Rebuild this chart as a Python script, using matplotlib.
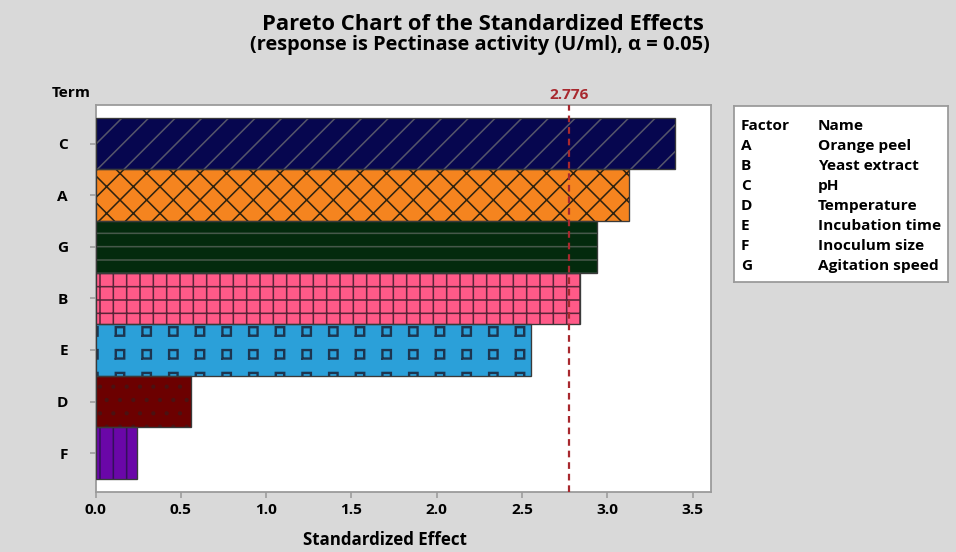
"""Pareto chart of standardized effects for pectinase activity."""

import warnings

import matplotlib
matplotlib.use("Agg")
import matplotlib.hatch as mhatch
import matplotlib.pyplot as plt
import numpy as np
from matplotlib.path import Path as MPath

warnings.filterwarnings("ignore", message=".*hatch.*")

# effects, top bar first
terms = ["C", "A", "G", "B", "E", "D", "F"]
effects = [3.40, 3.13, 2.94, 2.84, 2.55, 0.56, 0.24]
critical = 2.776

factor_codes = ["A", "B", "C", "D", "E", "F", "G"]
factor_names = ["Orange peel", "Yeast extract", "pH", "Temperature",
                "Incubation time", "Inoculum size", "Agitation speed"]

x_ticks = [0.0, 0.5, 1.0, 1.5, 2.0, 2.5, 3.0, 3.5]

face_colors = ["#06064f", "#f5841f", "#032a0d", "#ff5a88", "#2ba0d9", "#6c0000", "#6a07a8"]
hatch_colors = ["#55556a", "#2e2210", "#46584a", "#5a2438", "#1c3550", "#4a1212", "#33105a"]
hatches = ["//", "xx", "--", "++", "s", "..", "||"]

BG = "#d9d9d9"
RED = "#a8282e"
FONT = "Open Sans"
SMALL = 6.9


class OpenSquares(mhatch.HatchPatternBase):
    """Grid of small hollow squares, picked with 's' in a hatch string."""

    def __init__(self, hatch, density):
        n = hatch.count("s")
        self.cols = 6 * n
        self.rows = 7 * n
        self.num_vertices = self.cols * self.rows * 10

    def set_vertices_and_codes(self, vertices, codes):
        outer = np.array([[-1, -1], [1, -1], [1, 1], [-1, 1], [-1, -1]]) * 0.029
        # inner ring runs the other way so the centre stays open
        inner = np.array([[-1, -1], [-1, 1], [1, 1], [1, -1], [-1, -1]]) * 0.024
        k = 0
        for i in range(self.cols):
            for j in range(self.rows):
                c = [(i + 0.5) / self.cols, (j + 0.5) / self.rows]
                vertices[k:k + 5] = outer + c
                vertices[k + 5:k + 10] = inner + c
                codes[k:k + 10] = MPath.LINETO
                codes[k] = MPath.MOVETO
                codes[k + 5] = MPath.MOVETO
                k += 10


mhatch._hatch_types.append(OpenSquares)

plt.rcParams["hatch.linewidth"] = 0.7
plt.rcParams["font.family"] = [FONT, "DejaVu Sans"]
plt.rcParams["font.weight"] = "bold"

DPI = 160
fig = plt.figure(figsize=(956 / DPI, 552 / DPI), dpi=DPI, facecolor=BG)
ax = fig.add_axes([0.100, 0.109, 0.6435, 0.700])
ax.set_facecolor("white")

ypos = np.arange(len(terms))[::-1]
bars = ax.barh(ypos, effects, height=1.0, color=face_colors,
               edgecolor=hatch_colors, linewidth=0, zorder=2)
for bar, h in zip(bars, hatches):
    bar.set_hatch(h)
ax.barh(ypos, effects, height=1.0, fill=False, edgecolor="#3a3a3a",
        linewidth=0.6, zorder=3)

ax.axvline(critical, color=RED, linestyle=(0, (3, 2.2)), linewidth=1.0, zorder=4)
ax.text(critical, 1.008, f"{critical:.3f}", transform=ax.get_xaxis_transform(),
        ha="center", va="bottom", color=RED, fontsize=SMALL, fontweight="bold")

ax.set_xlim(0, 3.607)
ax.set_ylim(-0.75, 6.74)
ax.set_xticks(x_ticks)
ax.set_xticklabels([f"{v:.1f}" for v in x_ticks])
ax.set_yticks(ypos)
ax.set_yticklabels(terms)
ax.tick_params(axis="both", labelsize=SMALL, color="#9a9a9a", length=2.5, width=0.7)
ax.tick_params(axis="y", pad=10)
ax.tick_params(axis="x", pad=2.5)
for spine in ax.spines.values():
    spine.set_color("#9a9a9a")
    spine.set_linewidth(0.8)

ax.set_xlabel("Standardized Effect", fontsize=7.6, fontweight="bold", va="center")
ax.xaxis.set_label_coords(0.47, -0.124)
ax.text(-0.071, 1.032, "Term", transform=ax.transAxes, ha="left", va="center",
        fontsize=SMALL, fontweight="bold")

fig.text(0.505, 0.955, "Pareto Chart of the Standardized Effects", ha="center",
         va="center", fontsize=9.9, fontweight="bold")
fig.text(0.502, 0.918, "(response is Pectinase activity (U/ml), \u03b1 = 0.05)",
         ha="center", va="center", fontsize=9.0, fontweight="bold")

# factor key box
leg = fig.add_axes([0.7678, 0.4897, 0.2238, 0.3183])
leg.set_facecolor("white")
leg.set_xticks([])
leg.set_yticks([])
for spine in leg.spines.values():
    spine.set_color("#9a9a9a")
    spine.set_linewidth(0.8)
row_step = 0.1138
leg.text(0.033, 0.886, "Factor", transform=leg.transAxes, va="center", fontsize=SMALL)
leg.text(0.393, 0.886, "Name", transform=leg.transAxes, va="center", fontsize=SMALL)
for i, (code, name) in enumerate(zip(factor_codes, factor_names)):
    y = 0.886 - (i + 1) * row_step
    leg.text(0.033, y, code, transform=leg.transAxes, va="center", fontsize=SMALL)
    leg.text(0.393, y, name, transform=leg.transAxes, va="center", fontsize=SMALL)

fig.savefig("out.png", dpi=DPI, facecolor=BG)
